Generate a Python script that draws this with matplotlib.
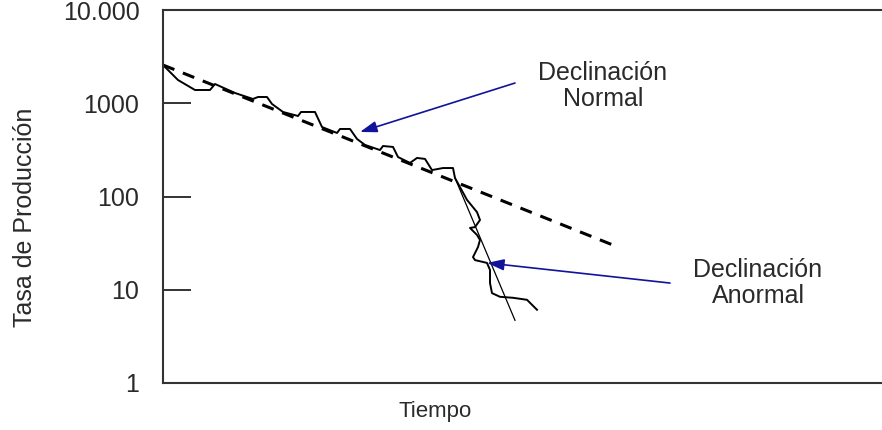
import numpy as np
import matplotlib.pyplot as plt
from matplotlib.ticker import NullLocator

# production data (time units arbitrary, rate on log scale)
wiggle_t = [0, 1.5, 3.2, 4.7, 5.2, 7.2, 9.0, 9.5, 10.4, 10.9, 12.0, 13.5, 13.8,
            15.2, 15.9, 17.4, 17.7, 18.7, 19.4, 20.2, 21.7, 22.0, 23.0, 23.5,
            24.7, 25.4, 26.2, 26.9, 28.0, 29.0, 29.2, 30.4, 31.4, 31.7, 31.2,
            30.7, 31.4, 31.7, 31.5, 31.0, 31.2, 32.4, 32.7, 32.7, 32.9, 33.7,
            35.0, 36.4, 37.4]
wiggle_rate = [2570, 1775, 1387, 1387, 1608, 1288, 1111, 1167, 1167, 982, 806,
               730, 806, 806, 556, 480, 530, 530, 414, 357, 315, 348, 340, 265,
               229, 259, 253, 192, 202, 202, 158, 92, 68, 56, 47, 46, 38.7, 34.2,
               28.7, 22.4, 20.8, 19.4, 16.3, 11.8, 9.2, 8.4, 8.2, 7.8, 6.1]

# trend lines
normal_t = [0, 45.5]
normal_rate = [2570, 28.7]
abnormal_t = [29.2, 35.2]
abnormal_rate = [158, 4.7]

ytick_vals = [1, 10, 100, 1000, 10000]
ytick_labels = ['1', '10', '100', '1000', '10.000']

# annotations: (text, text pos, arrow tail, arrow tip)
notes = [
    ('Declinación\nNormal', (44.0, 1531), (35.2, 1648), (19.7, 492)),
    ('Declinación\nAnormal', (59.5, 11.8), (50.7, 11.8), (32.4, 19.4)),
]

FONT = ['Liberation Sans', 'DejaVu Sans']
ARROW = '#12129a'
TEXT = '#2a2a2a'

fig = plt.figure(figsize=(8.82, 4.30), dpi=100)
ax = fig.add_axes([163 / 882, 1 - 383 / 430, 1 - 163 / 882, (383 - 10) / 430])

ax.plot(normal_t, normal_rate, color='black', lw=2.2, dashes=(4, 3))
ax.plot(wiggle_t, wiggle_rate, color='black', lw=1.4, solid_joinstyle='round')
ax.plot(abnormal_t, abnormal_rate, color='black', lw=0.9)

ax.set_yscale('log')
ax.set_ylim(1, 10000)
ax.set_xlim(0, 71.9)
ax.set_yticks(ytick_vals)
ax.set_yticklabels(ytick_labels, family=FONT, fontsize=18, color=TEXT)
ax.yaxis.set_minor_locator(NullLocator())
ax.xaxis.set_major_locator(NullLocator())
ax.tick_params(axis='y', direction='in', length=20, width=1.4, pad=17,
               color='#333333')

ax.spines['right'].set_visible(False)
for s in ['left', 'top', 'bottom']:
    ax.spines[s].set_linewidth(1.5)
    ax.spines[s].set_color('#333333')

for text, pos, tail, tip in notes:
    ax.annotate('', xy=tip, xytext=tail,
                arrowprops=dict(arrowstyle='-|>,head_length=0.6,head_width=0.2',
                                mutation_scale=17, color=ARROW, lw=1.2,
                                shrinkA=0, shrinkB=0))
    ax.text(pos[0], pos[1], text, ha='center', va='center', family=FONT,
            fontsize=18, color=TEXT, linespacing=1.1)

fig.text(25 / 882, 1 - 217 / 430, 'Tasa de Producción', rotation=90,
         ha='center', va='center', family=FONT, fontsize=18, color=TEXT)
fig.text(435 / 882, 1 - 412 / 430, 'Tiempo', ha='center', va='center',
         family=FONT, fontsize=16, color=TEXT)

fig.savefig('out.png', dpi=100)
